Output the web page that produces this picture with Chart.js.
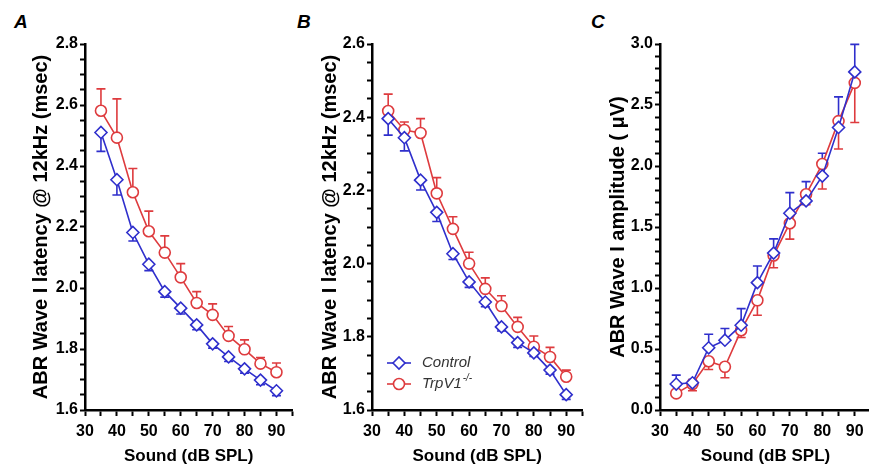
<!DOCTYPE html>
<html>
<head>
<meta charset="utf-8">
<script src="https://cdn.jsdelivr.net/npm/chart.js@4.4.1/dist/chart.umd.min.js"></script>
<style>
  html, body { margin: 0; padding: 0; background: #fff; overflow: hidden; }
  body { width: 869px; height: 468px; position: relative; }
  canvas { position: absolute; top: 0; }
  .panel { position: absolute; top: 11px; font: italic bold 19px "Liberation Sans", Arial, sans-serif; color: #000; }
</style>
</head>
<body>
<div class="panel" style="left:14px">A</div>
<div class="panel" style="left:297px">B</div>
<div class="panel" style="left:591px">C</div>
<canvas id="chartA" width="300" height="468" style="left:0px"></canvas>
<canvas id="chartB" width="290" height="468" style="left:300px"></canvas>
<canvas id="chartC" width="290" height="468" style="left:590px"></canvas>
<script>
// ---- data ----
const soundLevels = [35, 40, 45, 50, 55, 60, 65, 70, 75, 80, 85, 90];

// A: latency (msec)
const latencyA_control = [2.51, 2.355, 2.182, 2.078, 1.988, 1.934, 1.879, 1.817, 1.774, 1.735, 1.698, 1.663];
const latencyA_controlErr = [0.062, 0.05, 0.028, 0.021, 0.018, 0.019, 0.016, 0.014, 0.015, 0.014, 0.015, 0.016];
const latencyA_trpv1 = [2.581, 2.493, 2.314, 2.186, 2.116, 2.035, 1.951, 1.912, 1.843, 1.799, 1.752, 1.724];
const latencyA_trpv1Err = [0.072, 0.127, 0.078, 0.066, 0.055, 0.045, 0.037, 0.036, 0.031, 0.031, 0.02, 0.03];

// B: latency (msec)
const latencyB_control = [2.396, 2.344, 2.228, 2.14, 2.027, 1.95, 1.895, 1.827, 1.784, 1.756, 1.709, 1.642];
const latencyB_controlErr = [0.045, 0.036, 0.027, 0.025, 0.016, 0.015, 0.013, 0.011, 0.013, 0.01, 0.011, 0.013];
const latencyB_trpv1 = [2.417, 2.365, 2.357, 2.192, 2.095, 2.0, 1.931, 1.884, 1.827, 1.773, 1.745, 1.691];
const latencyB_trpv1Err = [0.046, 0.022, 0.039, 0.043, 0.033, 0.031, 0.03, 0.028, 0.026, 0.029, 0.026, 0.018];

// C: amplitude (uV)
const amplitude_control = [0.213, 0.223, 0.51, 0.572, 0.695, 1.044, 1.286, 1.613, 1.714, 1.918, 2.316, 2.771];
const amplitude_controlErr = [0.073, 0.027, 0.111, 0.096, 0.136, 0.136, 0.117, 0.169, 0.158, 0.186, 0.251, 0.226];
const amplitude_trpv1 = [0.136, 0.213, 0.40, 0.354, 0.654, 0.899, 1.267, 1.531, 1.768, 2.016, 2.368, 2.681];
const amplitude_trpv1Err = [0.02, 0.055, 0.068, 0.09, 0.06, 0.122, 0.101, 0.13, 0.085, 0.204, 0.229, 0.324];

const blue = "#2f2fcc";
const red = "#de3b3e";
const FONT = '"Liberation Sans", Arial, sans-serif';

Chart.defaults.font.family = FONT;
Chart.defaults.color = "#000";

// error bars: drawn under the markers, one-sided (dir = +1 up, -1 down)
const errorBars = {
  id: "errorBars",
  beforeDatasetsDraw(chart) {
    const { ctx, scales: { x, y } } = chart;
    chart.data.datasets.forEach((ds) => {
      if (!ds.err) return;
      ctx.save();
      ctx.strokeStyle = ds.borderColor;
      ctx.lineWidth = 1.6;
      ds.data.forEach((p, i) => {
        const px = x.getPixelForValue(p.x);
        const py = y.getPixelForValue(p.y);
        const pe = y.getPixelForValue(p.y + ds.dir * ds.err[i]);
        ctx.beginPath();
        ctx.moveTo(px, py);
        ctx.lineTo(px, pe);
        ctx.moveTo(px - 4.5, pe);
        ctx.lineTo(px + 4.5, pe);
        ctx.stroke();
      });
      ctx.restore();
    });
  }
};

// legend inside panel B
const legendB = {
  id: "legendB",
  afterDraw(chart) {
    const { ctx } = chart;
    const items = [
      { text: "Control", sup: "", color: blue, style: "rectRot", r: 6, y: 363 },
      { text: "TrpV1", sup: "-/-", color: red, style: "circle", r: 5.5, y: 384 }
    ];
    ctx.save();
    items.forEach((it) => {
      ctx.strokeStyle = it.color;
      ctx.lineWidth = 1.6;
      ctx.beginPath();
      ctx.moveTo(87, it.y);
      ctx.lineTo(111, it.y);
      ctx.stroke();
      ctx.fillStyle = "#fff";
      Chart.helpers.drawPoint(ctx, { pointStyle: it.style, radius: it.r, borderWidth: 1.6 }, 99, it.y);
      ctx.fillStyle = "#333";
      ctx.font = "italic 15px " + FONT;
      ctx.textBaseline = "middle";
      ctx.textAlign = "left";
      ctx.fillText(it.text, 122, it.y);
      if (it.sup) {
        const w = ctx.measureText(it.text).width;
        ctx.font = "italic 10px " + FONT;
        ctx.fillText(it.sup, 122 + w + 1, it.y - 6);
      }
    });
    ctx.restore();
  }
};

function makeDataset(label, values, errs, dir, color, style, radius) {
  return {
    label,
    data: soundLevels.map((s, i) => ({ x: s, y: values[i] })),
    err: errs,
    dir,
    borderColor: color,
    backgroundColor: "#fff",
    borderWidth: 1.6,
    pointStyle: style,
    pointRadius: radius,
    pointBorderWidth: 1.6,
    pointBackgroundColor: "#fff",
    pointBorderColor: color,
    tension: 0,
    clip: false
  };
}

function makeChart(id, cfg) {
  return new Chart(document.getElementById(id), {
    type: "line",
    data: { datasets: cfg.datasets },
    options: {
      responsive: false,
      animation: false,
      devicePixelRatio: 1,
      layout: { padding: { left: 0, right: cfg.padRight, top: 44, bottom: 0 } },
      plugins: { legend: { display: false }, tooltip: { enabled: false } },
      scales: {
        x: {
          type: "linear",
          min: 30,
          max: 95,
          afterFit: (s) => { s.height = 58; },
          border: { color: "#000", width: 2.5 },
          grid: { drawOnChartArea: false, drawTicks: true, tickLength: 6, tickColor: "#000", tickWidth: 2 },
          ticks: {
            stepSize: 5,
            autoSkip: false,
            maxRotation: 0,
            minRotation: 0,
            padding: 6,
            font: { size: 16, weight: "bold" },
            callback: (v) => (Math.round(v) % 10 === 0 && v < 95 ? String(Math.round(v)) : "")
          },
          title: { display: true, text: "Sound (dB SPL)", font: { size: 17, weight: "bold" }, padding: { top: 0, bottom: 1 } }
        },
        y: {
          type: "linear",
          min: cfg.yMin,
          max: cfg.yMax,
          afterFit: (s) => { s.width = cfg.axisLeft; },
          border: { color: "#000", width: 2.5 },
          grid: { drawOnChartArea: false, drawTicks: true, tickLength: 5, tickColor: "#000", tickWidth: 2 },
          ticks: {
            stepSize: cfg.yStep,
            autoSkip: false,
            padding: 2,
            font: { size: 16, weight: "bold" },
            callback: (v) => {
              const m = v / cfg.yLabelStep;
              return Math.abs(m - Math.round(m)) < 1e-6 ? v.toFixed(1) : "";
            }
          },
          title: { display: true, text: cfg.yTitle, font: { size: 20, weight: "bold" }, padding: { top: cfg.titlePad, bottom: 0 } }
        }
      }
    },
    plugins: cfg.plugins
  });
}

makeChart("chartA", {
  datasets: [
    makeDataset("Control", latencyA_control, latencyA_controlErr, -1, blue, "rectRot", 6),
    makeDataset("TrpV1-/-", latencyA_trpv1, latencyA_trpv1Err, 1, red, "circle", 5.5)
  ],
  padRight: 4, axisLeft: 85, titlePad: 29,
  yMin: 1.6, yMax: 2.8, yStep: 0.05, yLabelStep: 0.2,
  yTitle: "ABR Wave I latency @ 12kHz (msec)",
  plugins: [errorBars]
});

makeChart("chartB", {
  datasets: [
    makeDataset("Control", latencyB_control, latencyB_controlErr, -1, blue, "rectRot", 6),
    makeDataset("TrpV1-/-", latencyB_trpv1, latencyB_trpv1Err, 1, red, "circle", 5.5)
  ],
  padRight: 7, axisLeft: 72, titlePad: 18,
  yMin: 1.6, yMax: 2.6, yStep: 0.05, yLabelStep: 0.2,
  yTitle: "ABR Wave I latency @ 12kHz (msec)",
  plugins: [errorBars, legendB]
});

makeChart("chartC", {
  datasets: [
    makeDataset("Control", amplitude_control, amplitude_controlErr, 1, blue, "rectRot", 6),
    makeDataset("TrpV1-/-", amplitude_trpv1, amplitude_trpv1Err, -1, red, "circle", 5.5)
  ],
  padRight: 9, axisLeft: 70, titlePad: 16,
  yMin: 0, yMax: 3, yStep: 0.1, yLabelStep: 0.5,
  yTitle: "ABR Wave I amplitude ( \u03bcV)",
  plugins: [errorBars]
});
</script>
</body>
</html>
